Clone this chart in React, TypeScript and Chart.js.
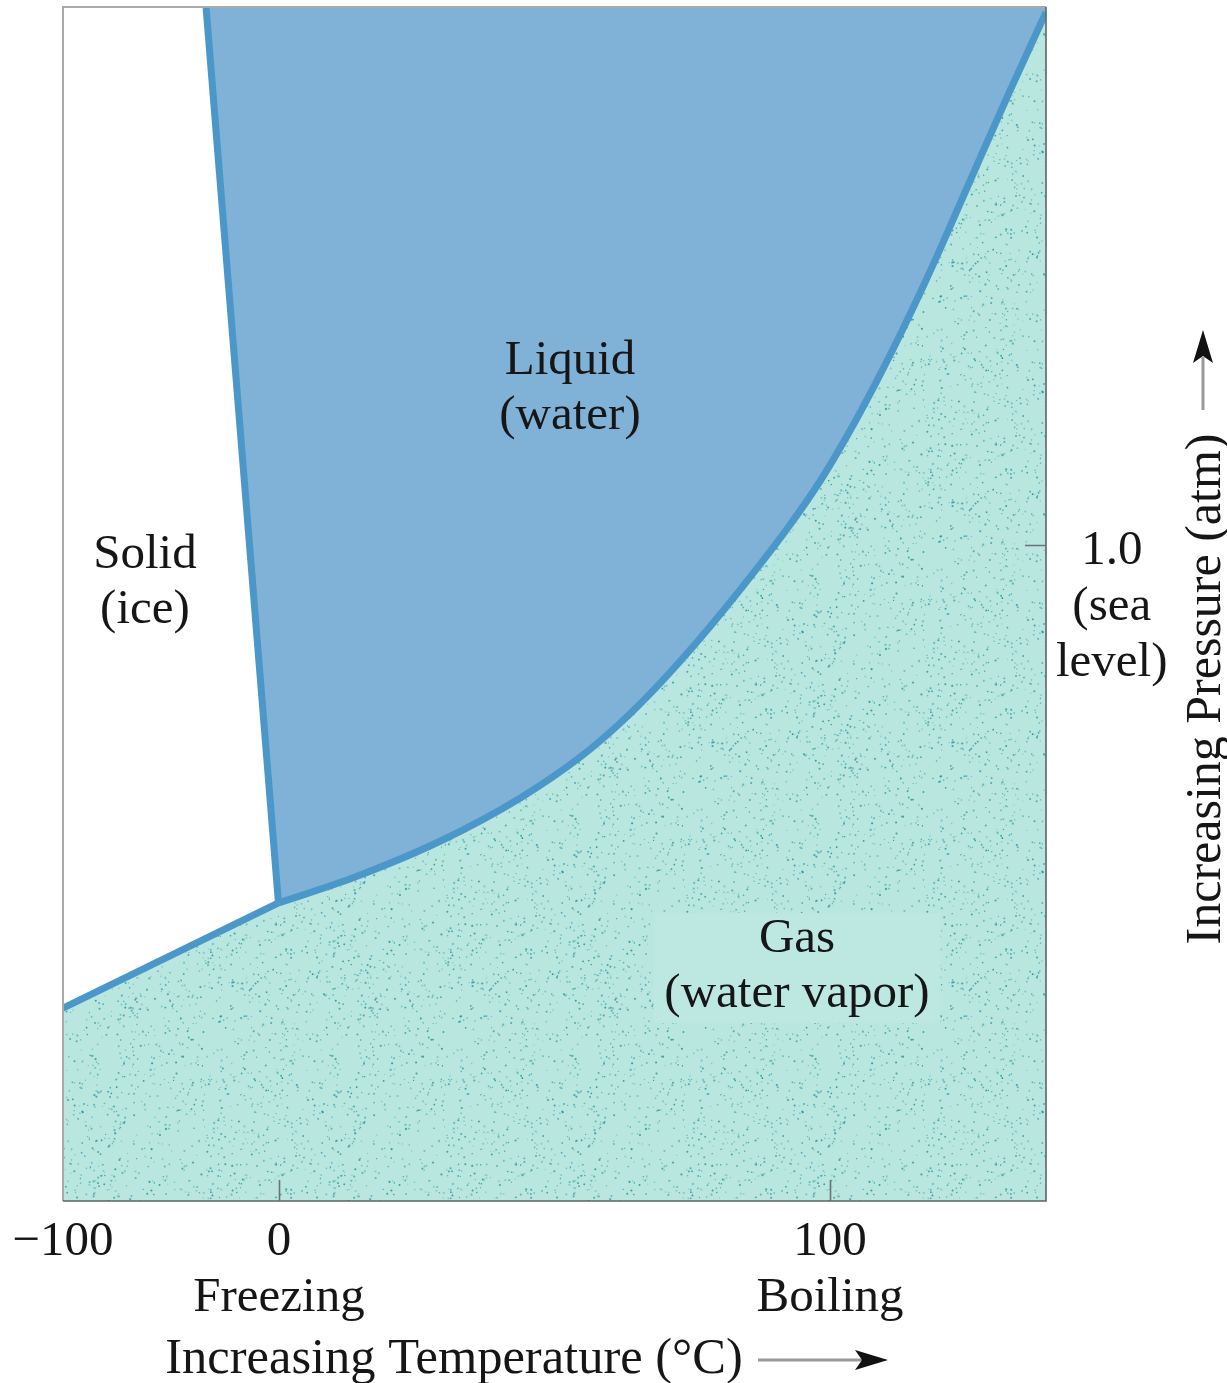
import React, { useEffect, useRef } from 'react';
import { Chart, registerables } from 'chart.js';

Chart.register(...registerables);

// ---- Axis ticks (schematic axes: 0–100 position units across the plot) ----
const temperatureTickPositions = [0, 21.97, 78.03];
const temperatureTickLabels: string[][] = [['\u2212100'], ['0', 'Freezing'], ['100', 'Boiling']];
const pressureTickPositions = [54.94];
const pressureTickLabels: string[][] = [['1.0', '(sea', 'level)']];

// ---- Phase boundaries (x = temperature position, y = pressure position) ----
const sublimationT = [0, 21.92];
const sublimationP = [16.16, 24.96];

const fusionT = [14.55, 21.92];
const fusionP = [100, 24.96];

const vaporizationT = [21.92, 29.5, 38.35, 46.49, 52.59, 56.66, 60.73, 64.8, 69.38, 73.65, 77.01, 79.86, 82.6, 85.15, 87.39, 89.52, 93.29, 96.34, 100];
const vaporizationP = [24.96, 27.07, 30.13, 33.74, 37.16, 40.01, 43.36, 47.11, 51.71, 56.28, 60.28, 64.22, 68.38, 72.53, 76.4, 80.27, 87.34, 92.99, 99.56];

// ---- Region names ----
const regionNames: string[][] = [['Solid', '(ice)'], ['Liquid', '(water)'], ['Gas', '(water vapor)']];
const regionLabelT = [8.34, 51.58, 74.67];
const regionLabelP = [53.02, 69.26, 20.85];

const xTitle = 'Increasing Temperature (\u00B0C)';
const yTitle = 'Increasing Pressure (atm)';

// ---- Styles ----
const FONT_FAMILY = '"Liberation Serif", "Times New Roman", serif';
const FONT_SIZE = 49;
const LINE_GAP = 55;
const TEXT_COLOR = '#161616';
const LIQUID_FILL = '#80b1d6';
const BOUNDARY_COLOR = '#4b97c9';
const GAS_BASE = '#b9e6df';
const GAS_BOX = '#bde8e2';

function mulberry32(seed: number) {
  let a = seed >>> 0;
  return () => {
    a = (a + 0x6d2b79f5) >>> 0;
    let t = a;
    t = Math.imul(t ^ (t >>> 15), t | 1);
    t ^= t + Math.imul(t ^ (t >>> 7), t | 61);
    return ((t ^ (t >>> 14)) >>> 0) / 4294967296;
  };
}

function makeStipple(): CanvasPattern | string {
  const size = 240;
  const c = document.createElement('canvas');
  c.width = size;
  c.height = size;
  const g = c.getContext('2d');
  if (!g) return GAS_BASE;
  g.fillStyle = GAS_BASE;
  g.fillRect(0, 0, size, size);
  const rnd = mulberry32(20240611);
  for (let i = 0; i < 1100; i++) {
    const x = rnd() * size;
    const y = rnd() * size;
    const alpha = 0.3 + rnd() * 0.6;
    const r = 0.55 + rnd() * 0.55;
    g.fillStyle = `rgba(36,148,160,${alpha.toFixed(3)})`;
    g.beginPath();
    g.arc(x, y, r, 0, Math.PI * 2);
    g.fill();
  }
  return g.createPattern(c, 'repeat') || GAS_BASE;
}

const toPoints = (xs: number[], ys: number[]) => xs.map((x, i) => ({ x, y: ys[i] }));

function drawArrowHead(ctx: CanvasRenderingContext2D, tipX: number, tipY: number, angle: number) {
  const len = 33;
  const half = 10;
  const notch = 7;
  ctx.save();
  ctx.translate(tipX, tipY);
  ctx.rotate(angle);
  ctx.beginPath();
  ctx.moveTo(0, 0);
  ctx.lineTo(-len, -half);
  ctx.lineTo(-len + notch, 0);
  ctx.lineTo(-len, half);
  ctx.closePath();
  ctx.fillStyle = '#111';
  ctx.fill();
  ctx.restore();
}

const diagramPlugin = {
  id: 'phaseDiagramDecor',
  afterDatasetsDraw(chart: any) {
    const { ctx, chartArea: a, scales } = chart;
    const xs = scales.x;
    const ys = scales.y;
    ctx.save();

    // Gas label backdrop
    const gx = xs.getPixelForValue(regionLabelT[2]);
    const gy = ys.getPixelForValue(regionLabelP[2]);
    ctx.fillStyle = GAS_BOX;
    ctx.fillRect(gx - 143.5, gy - 39, 287, 110);

    // Region labels
    ctx.font = `${FONT_SIZE}px ${FONT_FAMILY}`;
    ctx.fillStyle = TEXT_COLOR;
    ctx.textAlign = 'center';
    ctx.textBaseline = 'alphabetic';
    regionNames.forEach((lines, i) => {
      const px = xs.getPixelForValue(regionLabelT[i]);
      const py = ys.getPixelForValue(regionLabelP[i]);
      lines.forEach((line, j) => ctx.fillText(line, px, py + j * LINE_GAP));
    });

    // Plot frame
    ctx.lineWidth = 2;
    ctx.strokeStyle = '#a9a9a9';
    ctx.beginPath();
    ctx.moveTo(a.left, a.bottom);
    ctx.lineTo(a.left, a.top);
    ctx.lineTo(a.right, a.top);
    ctx.stroke();
    ctx.lineWidth = 1.6;
    ctx.strokeStyle = '#5c6666';
    ctx.beginPath();
    ctx.moveTo(a.right, a.top);
    ctx.lineTo(a.right, a.bottom);
    ctx.lineTo(a.left, a.bottom);
    ctx.stroke();

    // Inward tick marks
    ctx.lineWidth = 1.6;
    ctx.strokeStyle = '#6a7373';
    ctx.beginPath();
    temperatureTickPositions.slice(1).forEach((v) => {
      const px = Math.round(xs.getPixelForValue(v)) + 0.5;
      ctx.moveTo(px, a.bottom);
      ctx.lineTo(px, a.bottom - 21);
    });
    pressureTickPositions.forEach((v) => {
      const py = Math.round(ys.getPixelForValue(v)) + 0.5;
      ctx.moveTo(a.right, py);
      ctx.lineTo(a.right - 21, py);
    });
    ctx.stroke();

    // X title + arrow
    ctx.font = `50.5px ${FONT_FAMILY}`;
    ctx.fillStyle = TEXT_COLOR;
    ctx.textAlign = 'center';
    ctx.fillText(xTitle, a.left + 391, a.bottom + 172);
    const ay = a.bottom + 159;
    ctx.strokeStyle = '#9a9a9a';
    ctx.lineWidth = 3;
    ctx.beginPath();
    ctx.moveTo(a.left + 695, ay);
    ctx.lineTo(a.left + 800, ay);
    ctx.stroke();
    drawArrowHead(ctx, a.left + 825, ay, 0);

    // Y title (reads bottom to top) + arrow
    ctx.save();
    ctx.font = `50px ${FONT_FAMILY}`;
    ctx.translate(a.right + 174, a.top + 682);
    ctx.rotate(-Math.PI / 2);
    ctx.fillStyle = TEXT_COLOR;
    ctx.textAlign = 'center';
    ctx.fillText(yTitle, 0, 0);
    ctx.restore();
    const axX = a.right + 157;
    ctx.strokeStyle = '#9a9a9a';
    ctx.lineWidth = 3;
    ctx.beginPath();
    ctx.moveTo(axX, a.top + 403);
    ctx.lineTo(axX, a.top + 350);
    ctx.stroke();
    drawArrowHead(ctx, axX, a.top + 323, -Math.PI / 2);

    ctx.restore();
  },
};

export default function App() {
  const canvasRef = useRef<HTMLCanvasElement | null>(null);

  useEffect(() => {
    const canvas = canvasRef.current;
    if (!canvas) return;
    const stipple = makeStipple();
    const vaporization = toPoints(vaporizationT, vaporizationP);
    const firstStep = vaporization[1];
    // straight-edged pieces left of the triple point (overlap one step to avoid seams)
    const sublimationRegion = [...toPoints(sublimationT, sublimationP), firstStep];
    const fusionRegion = [...toPoints(fusionT, fusionP), firstStep];

    const tickFont = { family: FONT_FAMILY, size: FONT_SIZE, lineHeight: 1.14 };
    const lineStyle = {
      fill: false,
      borderColor: BOUNDARY_COLOR,
      borderWidth: 7,
      borderJoinStyle: 'round' as const,
      pointRadius: 0,
    };
    const fillStyle = { borderWidth: 0, pointRadius: 0 };

    const chart = new Chart(canvas, {
      type: 'line',
      data: {
        datasets: [
          { label: 'Gas (water vapor)', data: sublimationRegion, fill: 'start', backgroundColor: stipple as any, tension: 0, ...fillStyle },
          { label: 'Gas (water vapor) ', data: vaporization, fill: 'start', backgroundColor: stipple as any, cubicInterpolationMode: 'monotone', ...fillStyle },
          { label: 'Liquid (water)', data: fusionRegion, fill: 'end', backgroundColor: LIQUID_FILL, tension: 0, ...fillStyle },
          { label: 'Liquid (water) ', data: vaporization, fill: 'end', backgroundColor: LIQUID_FILL, cubicInterpolationMode: 'monotone', ...fillStyle },
          { label: 'Solid–gas boundary', data: toPoints(sublimationT, sublimationP), tension: 0, ...lineStyle },
          { label: 'Solid–liquid boundary', data: toPoints(fusionT, fusionP), tension: 0, ...lineStyle },
          { label: 'Liquid–gas boundary', data: vaporization, cubicInterpolationMode: 'monotone', ...lineStyle },
        ],
      },
      options: {
        animation: false,
        responsive: false,
        maintainAspectRatio: false,
        layout: { padding: { left: 63, top: 7, right: 0, bottom: 0 } },
        plugins: {
          legend: { display: false },
          tooltip: { enabled: false },
          filler: { propagate: false, drawTime: 'beforeDatasetsDraw' } as any,
        },
        scales: {
          x: {
            type: 'linear',
            min: 0,
            max: 100,
            grid: { display: false, drawTicks: false },
            border: { display: false },
            afterBuildTicks: (scale: any) => {
              scale.ticks = temperatureTickPositions.map((v) => ({ value: v }));
            },
            afterFit: (scale: any) => {
              scale.height = 182;
              scale.paddingLeft = 0;
              scale.paddingRight = 0;
            },
            ticks: {
              autoSkip: false,
              maxRotation: 0,
              minRotation: 0,
              padding: 13,
              color: TEXT_COLOR,
              font: tickFont,
              callback: (_v: any, i: number) => temperatureTickLabels[i],
            },
          },
          y: {
            type: 'linear',
            position: 'right',
            min: 0,
            max: 100,
            grid: { display: false, drawTicks: false },
            border: { display: false },
            afterBuildTicks: (scale: any) => {
              scale.ticks = pressureTickPositions.map((v) => ({ value: v }));
            },
            afterFit: (scale: any) => {
              scale.width = 181;
              scale.paddingTop = 0;
              scale.paddingBottom = 0;
            },
            ticks: {
              crossAlign: 'center',
              padding: 10,
              labelOffset: 62,
              color: TEXT_COLOR,
              font: tickFont,
              callback: (_v: any, i: number) => pressureTickLabels[i],
            },
          },
        },
      },
      plugins: [diagramPlugin],
    });

    return () => chart.destroy();
  }, []);

  return (
    <div style={{ position: 'absolute', left: 0, top: 0, width: 1227, height: 1383, overflow: 'hidden', background: '#fff' }}>
      <canvas ref={canvasRef} width={1227} height={1383} style={{ display: 'block' }} />
    </div>
  );
}
